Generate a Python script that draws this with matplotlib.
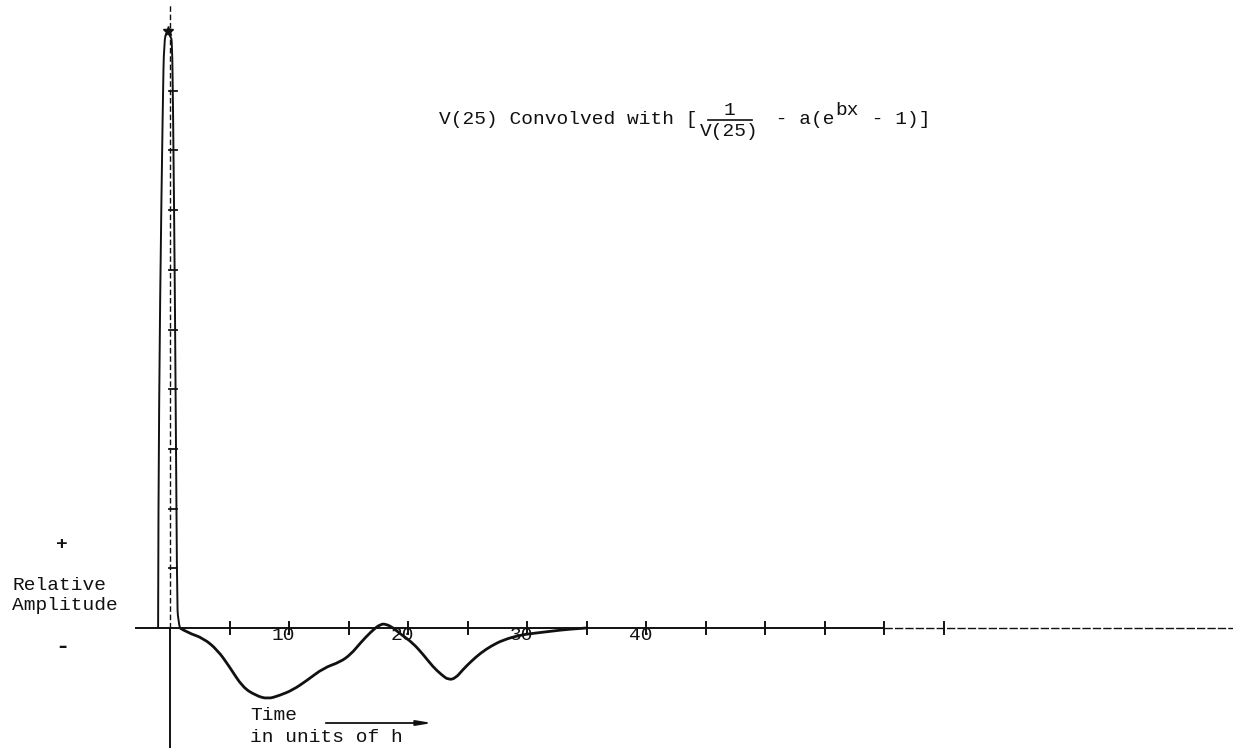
import matplotlib
matplotlib.use("Agg")
import matplotlib.pyplot as plt
from matplotlib.path import Path
from matplotlib.patches import PathPatch

# ---- data ----
spike_x = [-1.0, -0.98, -0.84, -0.6, -0.5, -0.25, 0.05, 0.17, 0.25, 0.42, 0.59, 0.68, 0.84]
spike_y = [0.0, 2.0, 5.5, 8.84, 9.85, 10.0, 9.9, 9.85, 8.84, 5.49, 0.47, 0.12, 0.0]

resp_x = [0.84, 1.5, 2.8, 4.0, 5.0, 6.1, 7.2, 8.2, 9.2, 10.3, 11.5, 12.9, 14.3, 15.2,
          16.0, 16.9, 17.7, 18.2, 18.7, 19.5, 20.4, 21.3, 22.1, 22.8, 23.4, 24.0,
          24.6, 25.3, 26.1, 27.0, 28.0, 29.4, 30.5, 32.2, 33.5, 35.0]
resp_y = [0.0, -0.08, -0.17, -0.37, -0.65, -0.99, -1.13, -1.19, -1.13, -1.04, -0.88,
          -0.67, -0.57, -0.44, -0.25, -0.06, 0.07, 0.06, 0.01, -0.12, -0.25, -0.45,
          -0.65, -0.78, -0.87, -0.84, -0.70, -0.56, -0.42, -0.30, -0.20, -0.12,
          -0.09, -0.05, -0.02, 0.0]

x_ticks = [5, 10, 15, 20, 25, 30, 35, 40, 45, 50, 55, 60, 65]
x_tick_labels = {10: "10", 20: "20", 30: "30", 40: "40"}
y_ticks = [1, 2, 3, 4, 5, 6, 7, 8, 9]

W, H = 1233, 748
PX_PER_X = 11.9
PX_PER_Y = 59.7
X0_PX, Y0_PX = 170, 628

fig = plt.figure(figsize=(W / 100, H / 100), dpi=100)
ax = fig.add_axes([0, 0, 1, 1])
ax.set_xlim(-X0_PX / PX_PER_X, (W - X0_PX) / PX_PER_X)
ax.set_ylim((Y0_PX - H) / PX_PER_Y, Y0_PX / PX_PER_Y)
ax.axis("off")

ink = "#111111"
mono = "Liberation Mono"

def fpx(x, y):
    return x / W, 1 - y / H

def smooth_path(xs, ys):
    """Quadratic B-spline style path: data points are control points."""
    pts = list(zip(xs, ys))
    verts = [pts[0]]
    codes = [Path.MOVETO]
    for i in range(1, len(pts) - 1):
        mx = (pts[i][0] + pts[i + 1][0]) / 2
        my = (pts[i][1] + pts[i + 1][1]) / 2
        if i == len(pts) - 2:
            mx, my = pts[i + 1]
        verts += [pts[i], (mx, my)]
        codes += [Path.CURVE3, Path.CURVE3]
    return Path(verts, codes)

# baseline (solid, then fading dashed to the right)
ax.plot([-2.9, 60.0], [0, 0], color=ink, lw=1.4, solid_capstyle="butt")
ax.plot([60.0, 90.0], [0, 0], color=ink, lw=1.0, ls=(0, (6, 1.5)))

# vertical axis: dashed above baseline, solid below
ax.plot([0, 0], [0, 10.45], color=ink, lw=1.0, ls=(0, (4, 2)))
ax.plot([0, 0], [(Y0_PX - H) / PX_PER_Y, 0], color=ink, lw=1.4)

# x ticks
for t in x_ticks:
    ax.plot([t, t], [-0.1, 0.1], color=ink, lw=1.4)
for t, lab in x_tick_labels.items():
    ax.text(t - 0.45, -0.12, lab, ha="center", va="center", fontsize=14,
            family=mono, color=ink)

# y ticks on the spike
for t in y_ticks:
    ax.plot([-0.05, 0.55], [t, t], color=ink, lw=1.3)

# spike
ax.add_patch(PathPatch(smooth_path(spike_x, spike_y), fill=False,
                       edgecolor=ink, lw=1.4))
ax.plot([-0.2], [10.0], marker="*", color=ink, ms=7)

# response curve
ax.add_patch(PathPatch(smooth_path(resp_x, resp_y), fill=False,
                       edgecolor=ink, lw=2.0, joinstyle="round"))

# axis texts
fig.text(*fpx(62, 545), "+", ha="center", va="center", fontsize=14,
         family=mono, weight="bold", color=ink)
fig.text(*fpx(12, 585), "Relative", ha="left", va="center", fontsize=14,
         family=mono, color=ink)
fig.text(*fpx(12, 605), "Amplitude", ha="left", va="center", fontsize=14,
         family=mono, color=ink)
fig.text(*fpx(62, 646), "-", ha="center", va="center", fontsize=17,
         family=mono, weight="bold", color=ink)

fig.text(*fpx(250, 715), "Time", ha="left", va="center", fontsize=14,
         family=mono, color=ink)
fig.text(*fpx(250, 737), "in units of h", ha="left", va="center", fontsize=14,
         family=mono, color=ink)
ax.annotate("", xy=((435 - X0_PX) / PX_PER_X, (Y0_PX - 723) / PX_PER_Y),
            xytext=((323 - X0_PX) / PX_PER_X, (Y0_PX - 723) / PX_PER_Y),
            arrowprops=dict(arrowstyle="-|>,head_length=0.9,head_width=0.15",
                            color=ink, lw=1.3))

# title
tb = 124  # baseline px
fig.text(*fpx(439, tb), "V(25) Convolved with [", ha="left", va="baseline",
         fontsize=14, family=mono, color=ink)
fig.text(*fpx(729, tb - 9), "1", ha="center", va="baseline", fontsize=14,
         family=mono, color=ink)
fig.lines.append(plt.Line2D([708 / W, 752 / W], [1 - (tb - 4) / H] * 2,
                            color=ink, lw=1.2, transform=fig.transFigure))
fig.text(*fpx(729, tb + 12), "V(25)", ha="center", va="baseline", fontsize=14,
         family=mono, color=ink)
fig.text(*fpx(764, tb), " - a(e", ha="left", va="baseline", fontsize=14,
         family=mono, color=ink)
fig.text(*fpx(835, tb - 9), "bx", ha="left", va="baseline", fontsize=14,
         family=mono, color=ink)
fig.text(*fpx(860, tb), " - 1)]", ha="left", va="baseline", fontsize=14,
         family=mono, color=ink)

fig.savefig("out.png", dpi=100, facecolor="white")
